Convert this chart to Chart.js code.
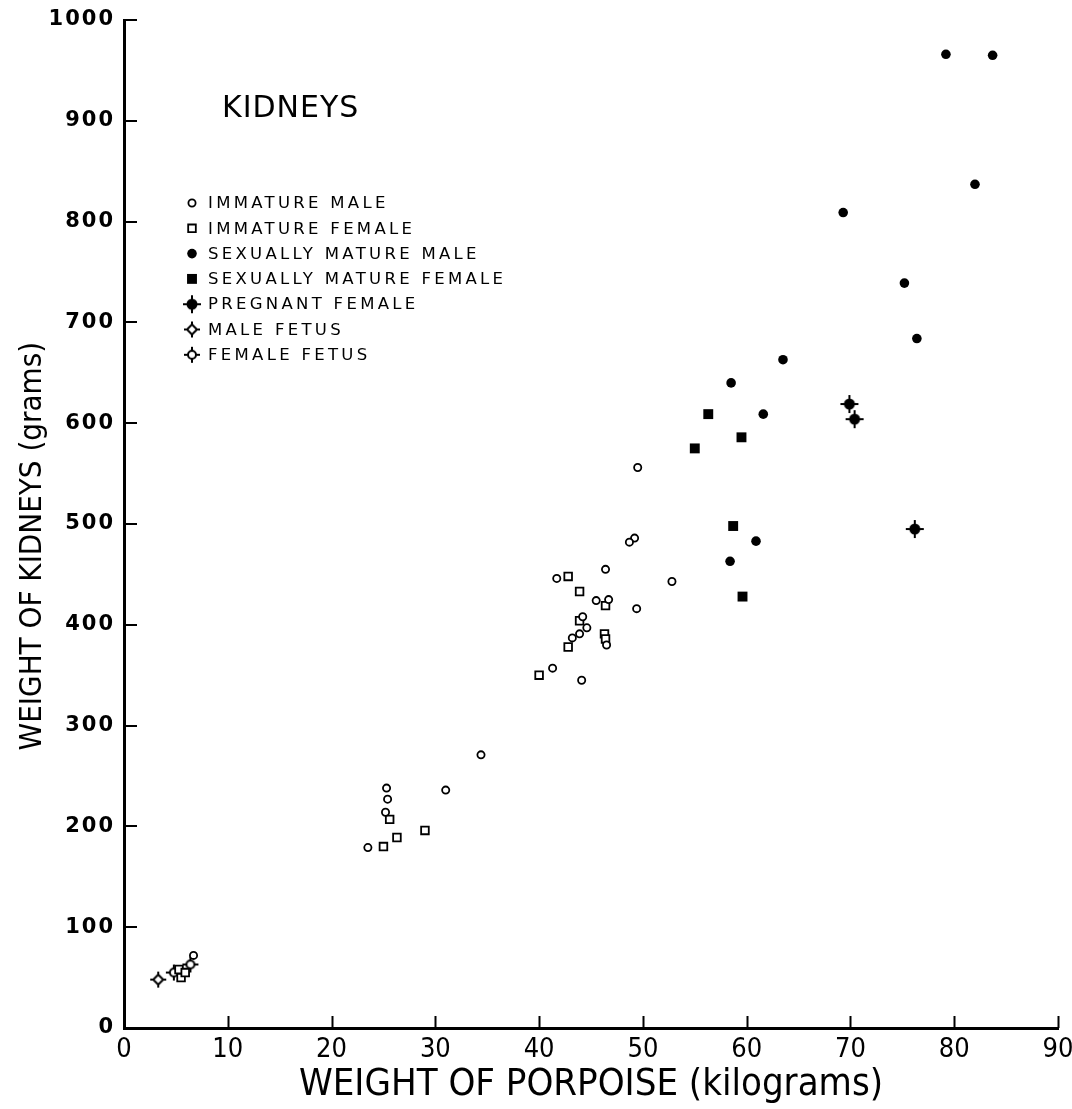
<!DOCTYPE html>
<html>
<head>
<meta charset="utf-8">
<title>Kidneys</title>
<script src="https://cdn.jsdelivr.net/npm/chart.js@4.4.0/dist/chart.umd.min.js"></script>
<style>
    html, body { margin: 0; padding: 0; background: #fff; }
    #chart { display: block; }
</style>
</head>
<body>
<canvas id="chart" width="1072" height="1109"></canvas>
<script>
// [peso della focena (kg), peso dei reni (g)]
const immatureMale = [
    [49.5, 556], [49.2, 486], [48.7, 482], [46.4, 455], [41.7, 446], [52.8, 443],
    [45.5, 424], [46.7, 425], [49.4, 416], [44.2, 408], [44.6, 397], [43.9, 391],
    [43.2, 387], [46.5, 380], [41.3, 357], [44.1, 345], [34.4, 271], [31.0, 236],
    [25.3, 238], [25.4, 227], [25.2, 214], [23.5, 179], [6.7, 72]
];
const immatureFemale = [
    [42.8, 448], [43.9, 433], [46.4, 419], [43.9, 404], [42.8, 378], [46.3, 391],
    [46.4, 386], [40.0, 350], [25.6, 207], [29.0, 196], [26.3, 189], [25.0, 180],
    [5.3, 58], [5.5, 50], [5.9, 55]
];
const matureMale = [
    [79.2, 966], [83.7, 965], [82.0, 837], [69.3, 809], [75.2, 739], [76.4, 684],
    [63.5, 663], [58.5, 640], [61.6, 609], [60.9, 483], [58.4, 463]
];
const matureFemale = [[56.3, 609], [59.5, 586], [55.0, 575], [58.7, 498], [59.6, 428]];
const pregnantFemale = [[69.9, 619], [70.4, 604], [76.2, 495]];
const maleFetus = [[3.3, 48]];
const femaleFetus = [[4.8, 55], [6.4, 63]];

const seriesLabels = [
    "IMMATURE MALE", "IMMATURE FEMALE", "SEXUALLY MATURE MALE",
    "SEXUALLY MATURE FEMALE", "PREGNANT FEMALE", "MALE FETUS", "FEMALE FETUS"
];
const xTickValues = [0, 10, 20, 30, 40, 50, 60, 70, 80, 90];
const yTickValues = [0, 100, 200, 300, 400, 500, 600, 700, 800, 900, 1000];
const panelTitle = "KIDNEYS";
const xTitle = "WEIGHT OF PORPOISE (kilograms)";
const yTitle = "WEIGHT OF KIDNEYS (grams)     "; // spazi finali: sposta il titolo verso il basso

// simboli con i bracci a croce (femmina gravida, feti)
function crossMarker(kind) {
    const c = document.createElement("canvas");
    c.width = 22;
    c.height = 22;
    const g = c.getContext("2d");
    g.strokeStyle = "#000";
    g.fillStyle = "#000";
    g.lineWidth = 2;
    const arm = kind === "pregnant" ? 9 : 8;
    g.beginPath();
    g.moveTo(11 - arm, 11); g.lineTo(11 + arm, 11);
    g.moveTo(11, 11 - arm); g.lineTo(11, 11 + arm);
    g.stroke();
    g.beginPath();
    if (kind === "pregnant") {
        g.arc(11, 11, 5.5, 0, Math.PI * 2);
        g.fill();
    } else if (kind === "male") {
        g.moveTo(11, 6); g.lineTo(16, 11); g.lineTo(11, 16); g.lineTo(6, 11); g.closePath();
        g.fillStyle = "#fff";
        g.fill();
        g.stroke();
    } else {
        g.arc(11, 11, 4, 0, Math.PI * 2);
        g.fillStyle = "#fff";
        g.fill();
        g.stroke();
    }
    return c;
}

function toPoints(arr) {
    return arr.map(p => ({ x: p[0], y: p[1] }));
}

function series(label, data, style, radius, fill, border) {
    return {
        label: label,
        data: toPoints(data),
        pointStyle: style,
        pointRadius: radius,
        pointHoverRadius: radius,
        backgroundColor: fill,
        borderColor: "#000",
        borderWidth: border,
        showLine: false
    };
}

// tacche interne, titolo e legenda
const annotate = {
    id: "annotate",
    afterDraw(chart) {
        const ctx = chart.ctx;
        const xs = chart.scales.x;
        const ys = chart.scales.y;
        const area = chart.chartArea;
        ctx.save();
        ctx.strokeStyle = "#000";
        ctx.lineWidth = 2;
        ctx.beginPath();
        xs.ticks.forEach(t => {
            if (t.value === 0) return;
            const px = Math.round(xs.getPixelForValue(t.value)) + 0.5;
            ctx.moveTo(px, area.bottom);
            ctx.lineTo(px, area.bottom - 12);
        });
        ys.ticks.forEach(t => {
            if (t.value === 0) return;
            const py = Math.round(ys.getPixelForValue(t.value));
            ctx.moveTo(area.left, py);
            ctx.lineTo(area.left + 13, py);
        });
        ctx.stroke();

        ctx.fillStyle = "#000";
        ctx.textBaseline = "middle";
        ctx.textAlign = "left";
        ctx.font = '30px "DejaVu Sans"';
        ctx.letterSpacing = "1px";
        ctx.fillText(panelTitle, area.left + 98, 109);

        ctx.font = '16.5px "DejaVu Sans"';
        ctx.letterSpacing = "3.3px";
        chart.data.datasets.forEach((ds, i) => {
            const y = 203 + i * 25.3;
            ctx.fillStyle = ds.backgroundColor;
            ctx.strokeStyle = "#000";
            ctx.lineWidth = ds.borderWidth;
            Chart.helpers.drawPoint(ctx, {
                pointStyle: ds.pointStyle, radius: ds.pointRadius,
                borderWidth: ds.borderWidth, rotation: 0
            }, area.left + 68, y);
            ctx.fillStyle = "#000";
            ctx.fillText(ds.label, area.left + 84, y + 1);
        });
        ctx.restore();
    }
};

// etichette dell'asse y un po' spaziate come nell'originale
const spacedLabels = {
    id: "spacedLabels",
    afterLayout(chart) {
        const ys = chart.scales.y;
        if (ys._spaced) return;
        const orig = ys.drawLabels;
        ys.drawLabels = function (area) {
            this.ctx.save();
            this.ctx.letterSpacing = "2px";
            orig.call(this, area);
            this.ctx.restore();
        };
        ys._spaced = true;
    }
};

const ctx = document.getElementById("chart").getContext("2d");
new Chart(ctx, {
    type: "scatter",
    data: {
        datasets: [
            series(seriesLabels[0], immatureMale, "circle", 3.6, "#fff", 1.8),
            series(seriesLabels[1], immatureFemale, "rect", 5.4, "#fff", 1.8),
            series(seriesLabels[2], matureMale, "circle", 4.8, "#000", 0),
            series(seriesLabels[3], matureFemale, "rect", 7, "#000", 0),
            series(seriesLabels[4], pregnantFemale, crossMarker("pregnant"), 6, "#000", 0),
            series(seriesLabels[5], maleFetus, crossMarker("male"), 6, "#fff", 0),
            series(seriesLabels[6], femaleFetus, crossMarker("female"), 6, "#fff", 0)
        ]
    },
    options: {
        responsive: false,
        animation: false,
        events: [],
        layout: { padding: { top: 20, right: 14, left: 0, bottom: 0 } },
        plugins: {
            legend: { display: false },
            tooltip: { enabled: false }
        },
        scales: {
            x: {
                type: "linear",
                min: 0,
                max: 90,
                afterBuildTicks: scale => { scale.ticks = xTickValues.map(v => ({ value: v })); },
                afterFit: scale => {
                    scale.height = 81;
                    scale.paddingLeft = 0;
                    scale.paddingRight = 0;
                },
                grid: { display: false, drawTicks: false },
                border: { display: true, color: "#000", width: 3 },
                ticks: {
                    color: "#000",
                    padding: 6,
                    maxRotation: 0,
                    autoSkip: false,
                    callback: v => String(v),
                    font: { family: '"DejaVu Sans Condensed", "DejaVu Sans"', size: 27 }
                },
                title: {
                    display: true,
                    text: xTitle,
                    color: "#000",
                    padding: { top: 0, bottom: 1 },
                    font: { family: '"DejaVu Sans Condensed", "DejaVu Sans"', size: 38 }
                }
            },
            y: {
                type: "linear",
                min: 0,
                max: 1000,
                afterBuildTicks: scale => { scale.ticks = yTickValues.map(v => ({ value: v })); },
                afterFit: scale => {
                    scale.width = 124;
                    scale.paddingTop = 0;
                    scale.paddingBottom = 0;
                },
                grid: { display: false, drawTicks: false },
                border: { display: true, color: "#000", width: 3 },
                ticks: {
                    color: "#000",
                    padding: 9,
                    autoSkip: false,
                    callback: v => String(v),
                    font: { family: '"DejaVu Sans"', size: 21, weight: "bold" }
                },
                title: {
                    display: true,
                    text: yTitle,
                    color: "#000",
                    padding: { top: 14, bottom: 0 },
                    font: { family: '"DejaVu Sans Condensed", "DejaVu Sans"', size: 31 }
                }
            }
        }
    },
    plugins: [spacedLabels, annotate]
});
</script>
</body>
</html>
